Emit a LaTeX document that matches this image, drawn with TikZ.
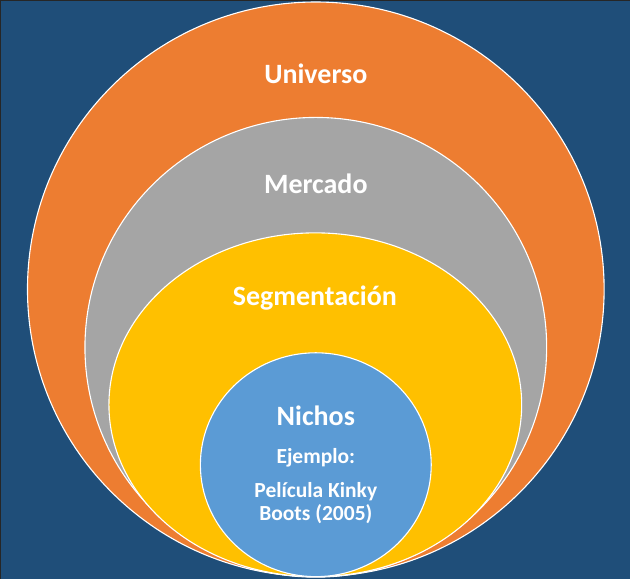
\documentclass[tikz,border=0pt]{standalone}
\usepackage{fontspec}
\setmainfont{Carlito}
\definecolor{fondo}{HTML}{1F4E79}
\definecolor{naranja}{HTML}{ED7D31}
\definecolor{gris}{HTML}{A5A5A5}
\definecolor{amarillo}{HTML}{FFC000}
\definecolor{azul}{HTML}{5B9BD5}
\tikzset{
  capa/.style={draw=white, line width=1.1pt},
  titulo/.style={text=white, font=\bfseries\fontsize{28}{31}\selectfont, anchor=base},
  detalle/.style={text=white, font=\bfseries\fontsize{21.5}{23}\selectfont, anchor=base, align=center}
}
\begin{document}
\begin{tikzpicture}[x=1pt, y=-1pt]
    % Background
    \fill[fondo] (0,0) rectangle (630,579);
    \draw[black!85, line width=0.8pt] (0.4,579) -- (0.4,0.4) -- (630,0.4);
    \useasboundingbox (0,0) rectangle (630,579);
    % Nested layers
    \foreach \c/\cx/\cy/\rx/\ry in {naranja/316/289.5/288.5/287.5, gris/316/347.5/231/230, amarillo/315.5/405/206.5/172, azul/316/465/115.5/112}
      \filldraw[capa, fill=\c] (\cx,\cy) ellipse [x radius=\rx pt, y radius=\ry pt];
    % Labels
    \node[titulo] (universo) at (316,84) {Universo};
    \node[titulo] (mercado) at (316,194) {Mercado};
    \node[titulo] (segmentacion) at (315,305.5) {Segmentación};
    \node[titulo] (nichos) at (316,425.5) {Nichos};
    \node[detalle] (ejemplo) at (316,463.5) {Ejemplo:};
    \node[detalle] (pelicula) at (316,497.5) {Película Kinky};
    \node[detalle] (boots) at (316,520.5) {Boots (2005)};
\end{tikzpicture}
\end{document}
